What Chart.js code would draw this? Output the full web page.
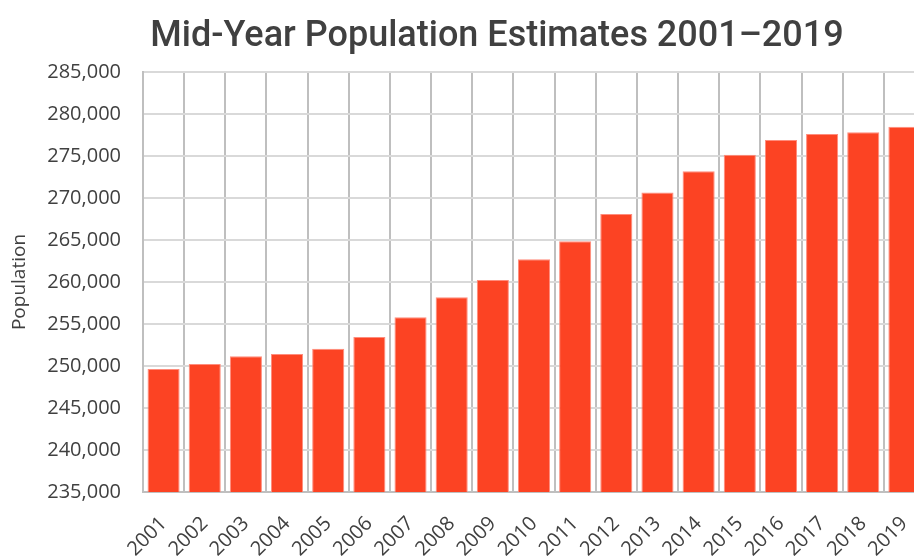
<!DOCTYPE html>
<html>
<head>
<meta charset="utf-8">
<script src="https://cdn.jsdelivr.net/npm/chart.js@4"></script>
<style>
  html, body { margin: 0; padding: 0; background: #fff; overflow: hidden; }
  #wrap { width: 994px; height: 558px; }
</style>
</head>
<body>
<div id="wrap"><canvas id="c" width="994" height="558"></canvas></div>
<script>
// Mid-year population estimates, 2001 to 2019
const years = ['2001','2002','2003','2004','2005','2006','2007','2008','2009','2010',
               '2011','2012','2013','2014','2015','2016','2017','2018','2019'];
const population = [249650, 250240, 251150, 251430, 252060, 253450, 255800, 258180, 260240, 262700,
                     264840, 268100, 270640, 273180, 275160, 276900, 277620, 277820, 278490];
const yMin = 235000;
const yMax = 285000;
const yStep = 5000;
const chartTitle = 'Mid-Year Population Estimates 2001\u20132019';

const textColor = '#404040';

// Title centred across the whole canvas, above the plot
const centredTitle = {
  id: 'centredTitle',
  afterDraw(chart) {
    const ctx = chart.ctx;
    ctx.save();
    ctx.font = '500 36px Roboto';
    ctx.fillStyle = textColor;
    ctx.textAlign = 'center';
    ctx.textBaseline = 'alphabetic';
    ctx.fillText(chartTitle, chart.width / 2, 46);
    ctx.restore();
  }
};

new Chart(document.getElementById('c'), {
  type: 'bar',
  data: {
    labels: years,
    datasets: [{
      label: 'Population',
      data: population,
      backgroundColor: '#FC4323',
      borderColor: '#FF8C7C',
      borderWidth: 1,
      borderSkipped: 'bottom',
      categoryPercentage: 0.78,
      barPercentage: 1.0
    }]
  },
  plugins: [centredTitle],
  options: {
    responsive: false,
    animation: false,
    layout: { padding: { left: 0, right: 69, top: 72, bottom: 0 } },
    plugins: {
      legend: { display: false },
      tooltip: { enabled: false },
      title: { display: false }
    },
    scales: {
      x: {
        grid: { color: '#BFBFBF', lineWidth: 2, drawTicks: false, offset: true },
        border: { color: '#BFBFBF', width: 2 },
        ticks: {
          color: textColor,
          font: { family: 'Open Sans', size: 20 },
          minRotation: 45,
          maxRotation: 45,
          padding: 20
        },
        afterFit: (s) => { s.height = 66; }
      },
      y: {
        min: yMin,
        max: yMax,
        grid: { color: '#D9D9D9', lineWidth: 2, drawTicks: false },
        border: { color: '#BFBFBF', width: 2 },
        ticks: {
          stepSize: yStep,
          color: textColor,
          font: { family: 'Open Sans', size: 20 },
          padding: 22,
          callback: (v) => v.toLocaleString('en-US')
        },
        title: {
          display: true,
          text: 'Population',
          color: textColor,
          font: { family: 'Open Sans', size: 19 },
          padding: { top: 8, bottom: 0 }
        },
        afterFit: (s) => { s.width = 143; }
      }
    }
  }
});
</script>
</body>
</html>
